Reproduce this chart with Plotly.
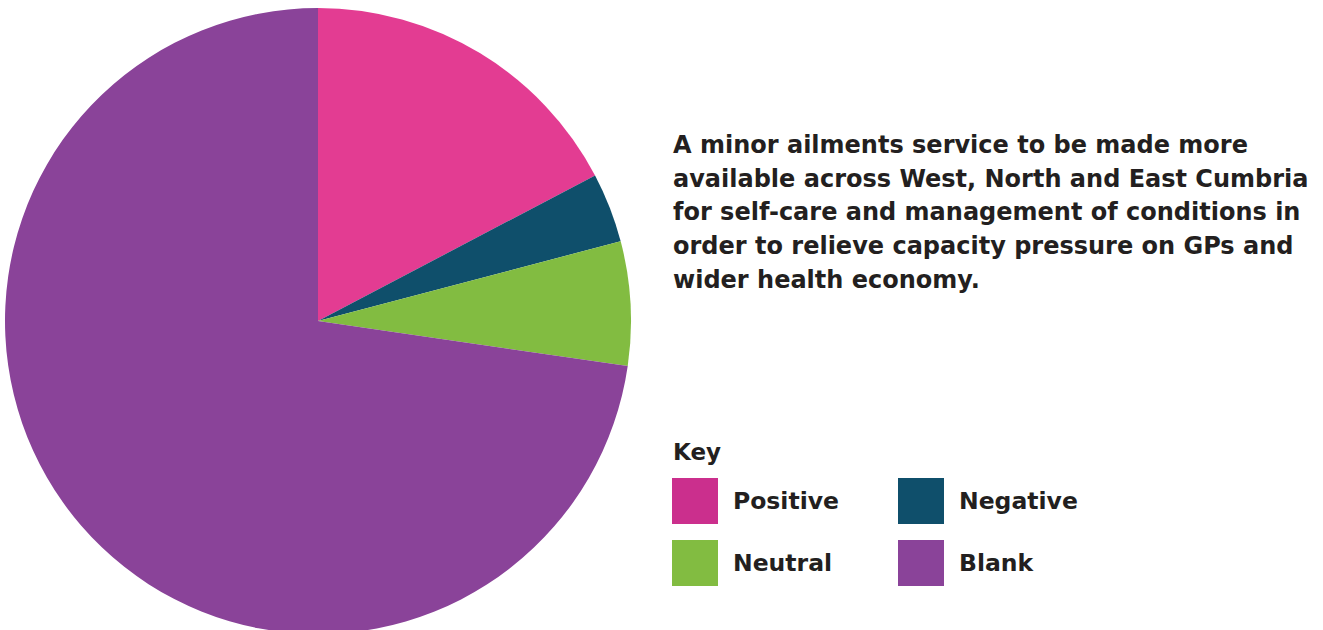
import plotly.graph_objects as go

# Survey responses for the proposal (share of respondents, %)
categories = ["Positive", "Negative", "Neutral", "Blank"]
shares = [17.3, 3.6, 6.4, 72.7]
slice_colors = ["#E33C92", "#0F4F6B", "#82BC41", "#8A4399"]
key_colors = ["#CB2F8D", "#0F4F6B", "#82BC41", "#8A4399"]

statement_lines = [
    "A minor ailments service to be made more",
    "available across West, North and East Cumbria",
    "for self-care and management of conditions in",
    "order to relieve capacity pressure on GPs and",
    "wider health economy.",
]

W, H = 1323, 640
FONT = "DejaVu Sans"
INK = "#231F20"


def px_x(x):
    return x / W


def px_y(y):
    return 1 - y / H


fig = go.Figure(
    go.Pie(
        labels=categories,
        values=shares,
        marker=dict(colors=slice_colors, line=dict(width=0)),
        sort=False,
        direction="clockwise",
        rotation=0,
        textinfo="none",
        hoverinfo="label+percent",
        showlegend=False,
        domain=dict(x=[px_x(5), px_x(631)], y=[px_y(634), px_y(8)]),
    )
)

annotations = []
shapes = []

# Statement text, one annotation per line
for i, line in enumerate(statement_lines):
    annotations.append(dict(
        x=px_x(671), y=px_y(145 + i * 33.7), xref="paper", yref="paper",
        xanchor="left", yanchor="middle", showarrow=False, align="left",
        text="<b>" + line + "</b>",
        font=dict(family=FONT, size=24, color=INK),
    ))

# Key
annotations.append(dict(
    x=px_x(671), y=px_y(452), xref="paper", yref="paper",
    xanchor="left", yanchor="middle", showarrow=False,
    text="<b>Key</b>", font=dict(family=FONT, size=23, color=INK),
))

key_cols = [672, 898]
key_rows = [478, 540]
box = 46
for idx, (name, col) in enumerate(zip(categories, key_colors)):
    cx = key_cols[idx % 2]
    cy = key_rows[idx // 2]
    shapes.append(dict(
        type="rect", xref="paper", yref="paper",
        x0=px_x(cx), x1=px_x(cx + box), y0=px_y(cy + box), y1=px_y(cy),
        fillcolor=col, line=dict(width=0), layer="above",
    ))
    annotations.append(dict(
        x=px_x(cx + box + 13), y=px_y(cy + box / 2), xref="paper", yref="paper",
        xanchor="left", yanchor="middle", showarrow=False,
        text="<b>" + name + "</b>", font=dict(family=FONT, size=23.5, color=INK),
    ))

fig.update_layout(
    width=W, height=H,
    margin=dict(l=0, r=0, t=0, b=0),
    paper_bgcolor="white", plot_bgcolor="white",
    annotations=annotations, shapes=shapes,
)

fig.write_html(
    "out.html",
    post_script="document.documentElement.style.overflow='hidden';document.body.style.overflow='hidden';document.body.style.margin='0';",
)
